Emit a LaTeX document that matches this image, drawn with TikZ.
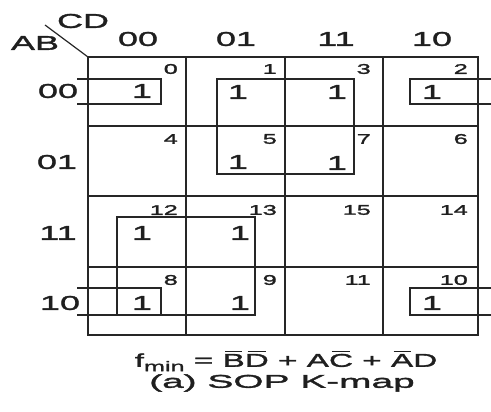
\documentclass[tikz,border=0pt]{standalone}
\usepackage{fontspec}
\setmainfont{Liberation Sans}[FakeStretch=1.8,FakeBold=1.8]
\newfontfamily\capfont{Liberation Sans}[FakeStretch=2.1,FakeBold=1.8]
\newfontfamily\formfont{Liberation Sans}[FakeStretch=1.8,FakeBold=1.8]
\newcommand\ovl[1]{\setbox0\hbox{#1}\rlap{\hspace{0.12\wd0}\rule[\dimexpr\ht0+2pt\relax]{0.76\wd0}{1.1pt}}\box0\relax}
\begin{document}
\begin{tikzpicture}[x=1pt,y=-1pt,
  big/.style={font=\fontsize{20}{22}\selectfont, inner sep=0pt, text=black!88},
  num/.style={font=\fontsize{14}{16}\selectfont, inner sep=0pt, anchor=east, text=black!88},
  capt/.style={font=\capfont\fontsize{18.5}{20}\selectfont, inner sep=0pt, text=black!88},
  formula/.style={font=\formfont\fontsize{18.5}{20}\selectfont, inner sep=0pt, text=black!88},
  gridline/.style={line width=2pt, draw=black!85},
  grp/.style={line width=1.6pt, draw=black!85},
  diagline/.style={line width=1.2pt, draw=black!85}]
\useasboundingbox (0,0) rectangle (491,412);
% corner labels
\node[big] (ab) at (35,43) {AB};
\node[big] (cd) at (83,21) {CD};
\coordinate (dtop) at (45,25);
\coordinate (corner) at (88,57);
\draw[diagline] (dtop) -- (corner);
% column headers
\node[big] (h00) at (138,39) {00};
\node[big] (h01) at (236,39) {01};
\node[big] (h11) at (336,39) {11};
\node[big] (h10) at (432,39) {10};
% row labels
\node[big] (r00) at (58,91) {00};
\node[big] (r01) at (57,162) {01};
\node[big] (r11) at (58,233) {11};
\node[big] (r10) at (60,303) {10};
% grid
\draw[gridline] (88,57) rectangle (478,335);
\draw[gridline] (186,57) -- (186,335);
\draw[gridline] (285,57) -- (285,335);
\draw[gridline] (383,57) -- (383,335);
\draw[gridline] (88,126) -- (478,126);
\draw[gridline] (88,196) -- (478,196);
\draw[gridline] (88,267) -- (478,267);
% cell numbers
\node[num] (n0) at (178,69) {0};
\node[num] (n1) at (277,69) {1};
\node[num] (n3) at (371,69) {3};
\node[num] (n2) at (468,69) {2};
\node[num] (n4) at (178,139) {4};
\node[num] (n5) at (277,139) {5};
\node[num] (n7) at (371,139) {7};
\node[num] (n6) at (468,139) {6};
\node[num] (n12) at (178,210) {12};
\node[num] (n13) at (277,210) {13};
\node[num] (n15) at (371,210) {15};
\node[num] (n14) at (468,210) {14};
\node[num] (n8) at (178,280) {8};
\node[num] (n9) at (277,280) {9};
\node[num] (n11) at (371,280) {11};
\node[num] (n10) at (468,280) {10};
% entries
\node[big] (m0) at (142,91) {1};
\node[big] (m1) at (238,92) {1};
\node[big] (m3) at (337,92) {1};
\node[big] (m2) at (432,92) {1};
\node[big] (m5) at (238,162) {1};
\node[big] (m7) at (337,163) {1};
\node[big] (m12) at (142,233) {1};
\node[big] (m13) at (240,233) {1};
\node[big] (m8) at (142,303) {1};
\node[big] (m9) at (240,303) {1};
\node[big] (m10) at (432,303) {1};
% groups
\draw[grp] (77,79) -- (161,79) -- (161,104) -- (77,104);
\draw[grp] (491,79) -- (410,79) -- (410,104) -- (491,104);
\draw[grp] (77,288) -- (161,288) -- (161,315) -- (77,315);
\draw[grp] (491,288) -- (410,288) -- (410,315) -- (491,315);
\draw[grp] (217,79) rectangle (354,174);
\draw[grp] (117,217) rectangle (255,315);
% formula and caption
\node[formula] (f) at (286,361) {f\raisebox{-0.45ex}{\fontsize{14}{14}\selectfont min} = \ovl{B}\ovl{D} + A\ovl{C} + \ovl{A}D};
\node[capt] (cap) at (282,383) {(a) SOP K-map};
\end{tikzpicture}
\end{document}
